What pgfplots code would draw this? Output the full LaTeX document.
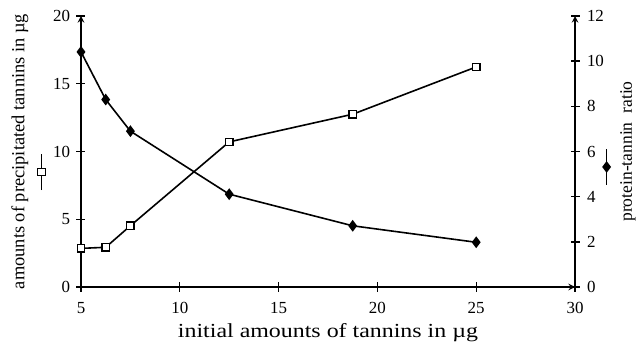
\documentclass[border=0pt]{standalone}
\usepackage{fontspec}
\setmainfont{Liberation Serif}
\usepackage{graphicx}
\usepackage{pgfplots}
\pgfplotsset{compat=1.18}
\begin{document}
\begin{tikzpicture}
\path[use as bounding box] (-81bp,-60bp) rectangle (556bp,287bp);
\pgfplotsset{
  base/.style={
    scale only axis, width=494bp, height=271bp,
    xmin=5, xmax=30,
    axis line style={-, line width=1.9bp},
    tick align=center, major tick length=9bp,
    tick style={line width=1.4bp, black},
    /pgf/number format/assume math mode=true,
    tick label style={font=\fontsize{17}{18}\selectfont},
    legend style={draw=none, fill=none, anchor=center, inner sep=0pt, outer sep=0pt,
      nodes={inner sep=0pt, outer sep=0pt}},
    legend image code/.code={
      \draw[mark repeat=2, mark phase=2, #1] plot coordinates {(0bp,-18bp) (0bp,0bp) (0bp,18bp)};
    },
  }
}
\begin{axis}[base,
  axis x line=bottom, axis y line=left,
  ymin=0, ymax=20, ytick={0,5,10,15,20}, xtick={5,10,15,20,25,30},
  xticklabel style={yshift=-7bp},
  yticklabel style={xshift=-3bp},
  xlabel={\fontsize{20}{22}\selectfont\scalebox{1.2}[1]{initial amounts of tannins in µg}},
  xlabel style={at={(axis description cs:0.5,0)}, anchor=base, yshift=-50bp},
  ylabel={\fontsize{18.5}{20}\selectfont amounts of precipitated tannins in µg},
  ylabel style={at={(axis description cs:-0.1235,0.5)}, anchor=center},
  legend style={at={(axis description cs:-0.079,0.424)}},
]
\addplot[black, line width=1.6bp, mark=square*, mark size=3.7bp, mark options={fill=white, line width=1.2bp}]
  coordinates {(5,2.85) (6.25,2.93) (7.5,4.52) (12.5,10.71) (18.75,12.75) (25,16.24)};
\addlegendentry{}
\end{axis}
\begin{axis}[base,
  axis x line=none, axis y line=right,
  ymin=0, ymax=12, ytick={0,2,4,6,8,10,12},
  yticklabel style={xshift=4bp},
  ylabel={\fontsize{17.6}{20}\selectfont protein-tannin\ \ ratio},
  ylabel style={at={(axis description cs:1.1073,0.5)}, anchor=center},
  legend style={at={(axis description cs:1.065,0.443)}},
]
\addplot[black, line width=1.6bp, mark=diamond*, mark size=4.6bp, mark options={fill=black}]
  coordinates {(5,10.41) (6.25,8.30) (7.5,6.90) (12.5,4.11) (18.75,2.71) (25,1.98)};
\addlegendentry{}
\end{axis}
\end{tikzpicture}
\end{document}
